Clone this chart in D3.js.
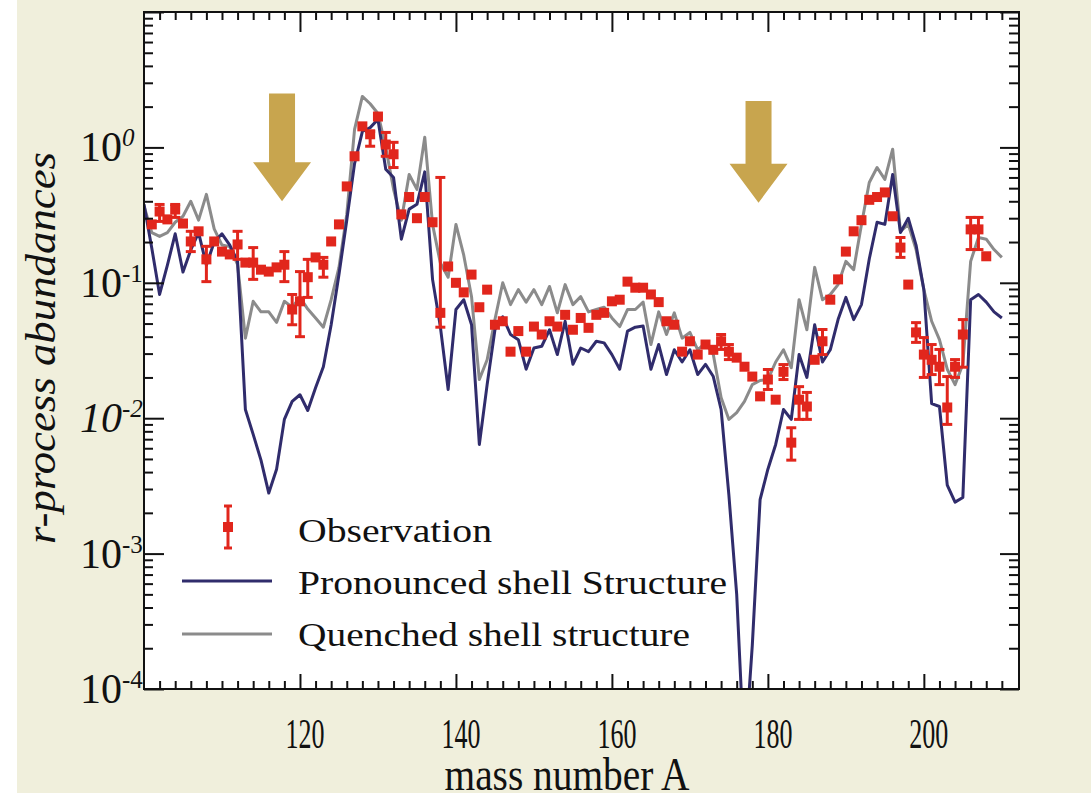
<!DOCTYPE html>
<html><head><meta charset="utf-8">
<script src="https://cdn.jsdelivr.net/npm/d3@7/dist/d3.min.js"></script>
<style>
html,body{margin:0;padding:0;background:#ffffff;}
svg{display:block;}
text{font-family:"Liberation Serif","Times New Roman",serif;fill:#111;}
</style></head><body>
<svg id="chart" width="1091" height="793"></svg>
<script>
// ---------------- data ----------------
const lineMassNumbers = d3.range(100, 211); // A = 100 ... 210

const pronounced = [
 0.38, 0.18, 0.082, 0.135, 0.23, 0.12, 0.175, 0.235, 0.135, 0.20,
 0.23, 0.19, 0.144, 0.0116, 0.0076, 0.0049, 0.0028, 0.0042, 0.0098, 0.0133,
 0.0149, 0.0114, 0.0168, 0.024, 0.049, 0.115, 0.29, 0.76, 1.31, 1.40,
 1.61, 0.69, 0.60, 0.21, 0.35, 0.38, 0.66, 0.106, 0.0475, 0.0163,
 0.0635, 0.075, 0.049, 0.0064, 0.0177, 0.045, 0.056, 0.0415, 0.038, 0.023,
 0.033, 0.034, 0.045, 0.0295, 0.052, 0.025, 0.033, 0.031, 0.037, 0.036,
 0.0295, 0.023, 0.044, 0.047, 0.048, 0.023, 0.035, 0.021, 0.032, 0.026,
 0.032, 0.021, 0.025, 0.0203, 0.0116, 0.0027, 0.0005, 0.00003, 0.00021, 0.0025,
 0.0042, 0.0064, 0.0116, 0.0098, 0.0295, 0.020, 0.049, 0.026, 0.032, 0.0535,
 0.078, 0.0535, 0.069, 0.15, 0.28, 0.27, 0.63, 0.235, 0.30, 0.19,
 0.089, 0.0128, 0.0122, 0.0032, 0.0024, 0.0026, 0.075, 0.082, 0.072, 0.061,
 0.055
];

const quenched = [
 0.37, 0.235, 0.22, 0.235, 0.28, 0.31, 0.40, 0.29, 0.45, 0.25,
 0.19, 0.185, 0.136, 0.039, 0.073, 0.061, 0.061, 0.051, 0.073, 0.066,
 0.078, 0.064, 0.055, 0.047, 0.075, 0.13, 0.32, 1.36, 2.38, 2.1,
 1.78, 1.0, 0.49, 0.29, 0.63, 0.49, 1.19, 0.27, 0.14, 0.11,
 0.27, 0.16, 0.079, 0.0193, 0.027, 0.0535, 0.10, 0.069, 0.089, 0.072,
 0.089, 0.069, 0.094, 0.060, 0.097, 0.069, 0.079, 0.061, 0.0635, 0.066,
 0.055, 0.0475, 0.0635, 0.0635, 0.072, 0.035, 0.061, 0.0415, 0.060, 0.039,
 0.043, 0.032, 0.036, 0.0295, 0.0142, 0.0098, 0.011, 0.0133, 0.0177, 0.019,
 0.0193, 0.026, 0.032, 0.0236, 0.075, 0.045, 0.13, 0.075, 0.082, 0.097,
 0.144, 0.125, 0.27, 0.55, 0.71, 0.58, 0.97, 0.24, 0.27, 0.176,
 0.089, 0.052, 0.038, 0.023, 0.0177, 0.025, 0.144, 0.216, 0.21, 0.176,
 0.154
];

const obsMassNumbers = d3.range(101, 209); // A = 101 ... 208
const observed = [
 0.27, 0.336, 0.294, 0.348, 0.274, 0.202, 0.24, 0.149, 0.202,
 0.17, 0.162, 0.192, 0.141, 0.141, 0.125, 0.121, 0.13, 0.136, 0.0635,
 0.073, 0.11, 0.154, 0.136, 0.202, 0.27, 0.515, 0.86, 1.43, 1.25,
 1.69, 1.05, 0.89, 0.32, 0.43, 0.30, 0.43, 0.28, 0.06, 0.132,
 0.10, 0.085, 0.115, 0.066, 0.089, 0.049, 0.052, 0.031, 0.044, 0.031,
 0.0475, 0.0415, 0.052, 0.0475, 0.058, 0.045, 0.055, 0.0465, 0.058, 0.060,
 0.073, 0.075, 0.102, 0.092, 0.092, 0.082, 0.072, 0.052, 0.049, 0.031,
 0.037, 0.0295, 0.035, 0.032, 0.037, 0.031, 0.028, 0.024, 0.0203, 0.0145,
 0.0193, 0.0137, 0.022, 0.0066, 0.0137, 0.0122, 0.027, 0.037, 0.075, 0.106,
 0.17, 0.24, 0.29, 0.41, 0.43, 0.465, 0.31, 0.182, 0.097, 0.043,
 0.0295, 0.027, 0.024, 0.012, 0.024, 0.0415, 0.248, 0.248, 0.157
];
// error bars: [A, upper, lower]
const obsErrors = [
 [102, 0.379, 0.284], [104, 0.379, 0.304], [106, 0.24, 0.17], [108, 0.186, 0.102],
 [112, 0.24, 0.149], [114, 0.182, 0.106], [118, 0.17, 0.102], [119, 0.082, 0.049],
 [120, 0.121, 0.04], [121, 0.149, 0.078], [123, 0.154, 0.11], [129, 1.31, 1.02],
 [131, 1.29, 0.86], [132, 1.09, 0.71], [138, 0.60, 0.047], [174, 0.0415, 0.0322],
 [175, 0.035, 0.0271], [180, 0.0229, 0.0163], [182, 0.0249, 0.0193], [183, 0.0085, 0.0049],
 [184, 0.0171, 0.0098], [185, 0.0155, 0.0098], [187, 0.0452, 0.0295], [197, 0.216, 0.154],
 [199, 0.0508, 0.0363], [200, 0.0394, 0.020], [201, 0.035, 0.021], [202, 0.0322, 0.0177],
 [203, 0.0203, 0.009], [204, 0.0271, 0.020], [205, 0.0535, 0.0238], [206, 0.304, 0.176],
 [207, 0.304, 0.176]
];

const xMajorTicks = [120, 140, 160, 180, 200];
const yDecades = [1e-4, 1e-3, 1e-2, 1e-1, 1, 10];
const yTickLabels = [["10","-4"],["10","-3"],["10","-2"],["10","-1"],["10","0"]];
const legendLabels = ["Observation", "Pronounced shell Structure", "Quenched shell structure"];
// shell-closure arrows: [A, top value, tip value]
const arrows = [[117.7, 2.5, 0.40], [178.8, 2.2, 0.39]];

// ---------------- layout ----------------
const svg = d3.select("#chart");
const W = 1091, H = 793;
const plot = {left:144, right:1019, top:12, bottom:689};
const cDark = "#302c6c", cGray = "#8b8b8b", cRed = "#e1261c", cGold = "#c8a54e";

svg.append("rect").attr("x",17).attr("y",0).attr("width",W-17).attr("height",H).attr("fill","#f0efdc");
svg.append("rect").attr("x",plot.left).attr("y",plot.top)
   .attr("width",plot.right-plot.left).attr("height",plot.bottom-plot.top).attr("fill","#ffffff");

const x = d3.scaleLinear().domain([100, 212.2]).range([plot.left, plot.right]);
const y = d3.scaleLog().domain([1e-4, 10]).range([plot.bottom, plot.top]);

svg.append("clipPath").attr("id","clip").append("rect")
   .attr("x",plot.left).attr("y",plot.top).attr("width",plot.right-plot.left).attr("height",plot.bottom-plot.top);

// arrows
const ag = svg.append("g");
arrows.forEach(([a, top, tip]) => {
  const cx = x(a), yt = y(top), yp = y(tip);
  const headH = 39, shaftW = 13, headW = 29;
  const yb = yp - headH;
  ag.append("path").attr("fill", cGold).attr("d",
    `M${cx-shaftW},${yt} L${cx+shaftW},${yt} L${cx+shaftW},${yb} L${cx+headW},${yb} L${cx},${yp} L${cx-headW},${yb} L${cx-shaftW},${yb} Z`);
});

// lines
const g = svg.append("g").attr("clip-path","url(#clip)");
const line = d3.line().x(d => x(d[0])).y(d => y(d[1]));
g.append("path").datum(lineMassNumbers.map((a,i)=>[a, quenched[i]]))
  .attr("fill","none").attr("stroke",cGray).attr("stroke-width",3).attr("stroke-linejoin","round").attr("d",line);
g.append("path").datum(lineMassNumbers.map((a,i)=>[a, pronounced[i]]))
  .attr("fill","none").attr("stroke",cDark).attr("stroke-width",3).attr("stroke-linejoin","round").attr("d",line);

// observations
const eg = g.append("g").attr("stroke",cRed).attr("stroke-width",3);
obsErrors.forEach(([a, hi, lo]) => {
  const cx = x(a);
  eg.append("line").attr("x1",cx).attr("x2",cx).attr("y1",y(hi)).attr("y2",y(lo));
  eg.append("line").attr("x1",cx-5).attr("x2",cx+5).attr("y1",y(hi)).attr("y2",y(hi));
  eg.append("line").attr("x1",cx-5).attr("x2",cx+5).attr("y1",y(lo)).attr("y2",y(lo));
});
g.append("g").selectAll("rect").data(obsMassNumbers.map((a,i)=>[a, observed[i]])).join("rect")
  .attr("x", d => x(d[0]) - 5).attr("y", d => y(d[1]) - 5)
  .attr("width", 10).attr("height", 10).attr("fill", cRed);

// ---------------- axes ----------------
const ax = svg.append("g");
const minorX = d3.range(102, 212, 2);
// bottom
ax.append("g").attr("transform",`translate(0,${plot.bottom})`)
  .call(d3.axisBottom(x).tickValues(minorX.filter(v=>!xMajorTicks.includes(v))).tickSize(-8).tickFormat(""))
  .call(s => s.select(".domain").remove());
ax.append("g").attr("transform",`translate(0,${plot.bottom})`)
  .call(d3.axisBottom(x).tickValues(xMajorTicks).tickSize(-15).tickFormat(""))
  .call(s => s.select(".domain").remove());
// top
ax.append("g").attr("transform",`translate(0,${plot.top})`)
  .call(d3.axisTop(x).tickValues(minorX.filter(v=>!xMajorTicks.includes(v))).tickSize(-8).tickFormat(""))
  .call(s => s.select(".domain").remove());
ax.append("g").attr("transform",`translate(0,${plot.top})`)
  .call(d3.axisTop(x).tickValues(xMajorTicks).tickSize(-20).tickFormat(""))
  .call(s => s.select(".domain").remove());
// y minor
const minorY = [];
yDecades.slice(0,-1).forEach(d => { for (let k=2;k<=9;k++) minorY.push(d*k); });
ax.append("g").attr("transform",`translate(${plot.left},0)`)
  .call(d3.axisLeft(y).tickValues(minorY).tickSize(-9).tickFormat(""))
  .call(s => s.select(".domain").remove());
ax.append("g").attr("transform",`translate(${plot.left},0)`)
  .call(d3.axisLeft(y).tickValues(yDecades).tickSize(-20).tickFormat(""))
  .call(s => s.select(".domain").remove());
ax.append("g").attr("transform",`translate(${plot.right},0)`)
  .call(d3.axisRight(y).tickValues(minorY).tickSize(-10).tickFormat(""))
  .call(s => s.select(".domain").remove());
ax.append("g").attr("transform",`translate(${plot.right},0)`)
  .call(d3.axisRight(y).tickValues(yDecades).tickSize(-19).tickFormat(""))
  .call(s => s.select(".domain").remove());
ax.selectAll(".tick line").attr("stroke","#111").attr("stroke-width",2);

// frame
svg.append("rect").attr("x",plot.left).attr("y",plot.top)
  .attr("width",plot.right-plot.left).attr("height",plot.bottom-plot.top)
  .attr("fill","none").attr("stroke","#111").attr("stroke-width",2);

// tick labels
yDecades.slice(0,-1).forEach((d,i) => {
  const t = svg.append("text").attr("x",80).attr("y",y(d)+14)
    .style("font-size","42px");
  if (yTickLabels[i][1] === "-2") t.style("font-style","italic");
  t.append("tspan").text(yTickLabels[i][0]);
  t.append("tspan").attr("dy",-15).style("font-size","25px")
    .style("font-style", yTickLabels[i][1]==="0" ? "italic" : null).text(yTickLabels[i][1]);
});
xMajorTicks.forEach(v => {
  svg.append("text").attr("x",x(v)+5).attr("y",748).attr("text-anchor","middle")
    .style("font-size","42px").attr("textLength",39).attr("lengthAdjust","spacingAndGlyphs").text(v);
});

// axis titles
svg.append("text").attr("transform","translate(55,348) rotate(-90)").attr("text-anchor","middle")
  .style("font-size","42px").style("font-style","italic")
  .attr("textLength",392).attr("lengthAdjust","spacingAndGlyphs").text("r-process  abundances");
svg.append("text").attr("x",567).attr("y",790).attr("text-anchor","middle")
  .style("font-size","47px").attr("textLength",245).attr("lengthAdjust","spacingAndGlyphs").text("mass  number A");

// ---------------- legend ----------------
const lg = svg.append("g");
// observation symbol
lg.append("line").attr("x1",228).attr("x2",228).attr("y1",506).attr("y2",548).attr("stroke",cRed).attr("stroke-width",3);
lg.append("line").attr("x1",224).attr("x2",232).attr("y1",506).attr("y2",506).attr("stroke",cRed).attr("stroke-width",3);
lg.append("line").attr("x1",224).attr("x2",232).attr("y1",548).attr("y2",548).attr("stroke",cRed).attr("stroke-width",3);
lg.append("rect").attr("x",223).attr("y",522).attr("width",10).attr("height",10).attr("fill",cRed);
lg.append("line").attr("x1",182).attr("x2",272).attr("y1",581).attr("y2",581).attr("stroke",cDark).attr("stroke-width",3);
lg.append("line").attr("x1",182).attr("x2",272).attr("y1",634).attr("y2",634).attr("stroke",cGray).attr("stroke-width",3);
const legW = [194, 429, 392];
const legY = [542, 594, 646];
legendLabels.forEach((s,i) => {
  lg.append("text").attr("x",298).attr("y",legY[i]).style("font-size","33px")
    .attr("textLength",legW[i]).attr("lengthAdjust","spacingAndGlyphs").text(s);
});
</script>
</body></html>
